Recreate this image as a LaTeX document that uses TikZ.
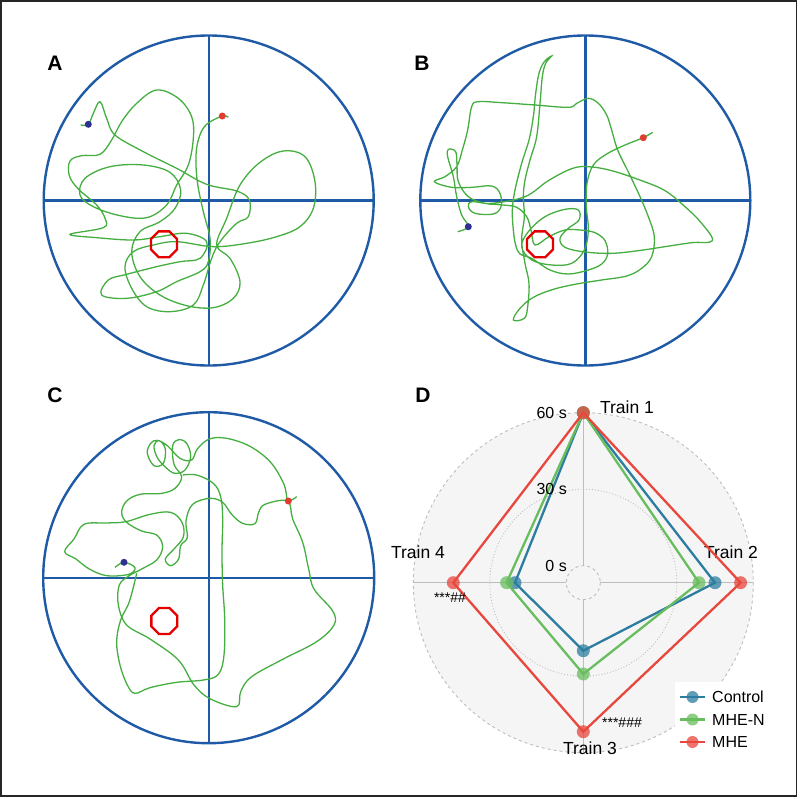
\documentclass[tikz,border=0pt]{standalone}
\usepackage{fontspec}
\setmainfont{Liberation Sans}
\usepackage{tikz}
\usetikzlibrary{shapes.geometric}

\definecolor{mazeblue}{HTML}{1F5AA6}
\definecolor{trackgreen}{HTML}{45AE40}
\definecolor{startblue}{HTML}{2E3192}
\definecolor{endred}{HTML}{E53A2F}
\definecolor{ctrlblue}{HTML}{2C7DA0}
\definecolor{mhengreen}{HTML}{68BD5E}
\definecolor{mhered}{HTML}{E8473E}
\definecolor{gridgray}{HTML}{BDBDBD}
\definecolor{radarbg}{HTML}{F5F5F5}

\tikzset{
  maze/.style={mazeblue, line width=2.4pt},
  track/.style={trackgreen, line width=1.3pt},
  target/.style={draw=red!90!black, line width=2.3pt, regular polygon, regular polygon sides=8, minimum size=28pt, inner sep=0pt},
  startdot/.style={circle, fill=startblue, minimum size=7pt, inner sep=0pt},
  enddot/.style={circle, fill=endred, minimum size=7pt, inner sep=0pt},
  panel/.style={font=\fontsize{21}{24}\selectfont\bfseries},
  ticklabel/.style={font=\fontsize{16}{18}\selectfont, inner sep=0pt},
  trainlabel/.style={font=\fontsize{17.5}{20}\selectfont, inner sep=0pt},
  starlabel/.style={font=\fontsize{14}{16}\selectfont, inner sep=0pt},
  gridline/.style={gridgray, line width=0.9pt},
  ctrlline/.style={ctrlblue, line width=2.3pt},
  mhenline/.style={mhengreen, line width=2.3pt},
  mheline/.style={mhered, line width=2.3pt},
  ctrlmark/.style={ctrlblue, fill opacity=0.75},
  mhenmark/.style={mhengreen, fill opacity=0.75},
  mhemark/.style={mhered, fill opacity=0.75}
}

\begin{document}
\begin{tikzpicture}[x=1pt, y=-1pt]
\useasboundingbox (0,0) rectangle (800,798);
\draw[line width=1.5pt, black!85] (1,1) rectangle (796.7,796);

% panel A
\node[panel] (labA) at (55,63) {A};
\draw[maze] (208.7,200.5) circle [radius=165];
\draw[maze] (43.7,200.5) -- (373.7,200.5);
\draw[maze] (208.7,35.5) -- (208.7,365.5);
\begin{scope}[shift={(60,85)}, scale=1/3]
\draw[track] plot[smooth, tension=0.6] coordinates {(62,120) (85,118) (100,85) (120,50) (140,100) (165,150) (250,200) (350,250) (440,298) (530,318) (568,345) (565,395) (530,415) (480,470) (455,520) (430,600) (400,660) (330,680) (260,665) (215,610) (195,545) (220,500) (280,480) (350,470) (460,485) (560,475) (650,455) (720,425) (760,370) (765,290) (735,215) (670,198) (600,232) (540,300) (500,400) (470,480) (510,520) (540,590) (520,640) (460,668) (380,662) (300,630) (240,575) (215,500) (240,440) (300,410) (345,370) (362,315) (330,262) (250,240) (150,245) (75,280) (60,330) (100,365) (180,392) (260,398) (320,360) (350,300) (385,240) (400,160) (395,95) (355,40) (290,15) (230,55) (185,110) (155,165) (120,208) (65,212) (30,228) (28,272) (55,312) (110,360) (135,400) (130,428) (30,448) (110,458) (220,465) (300,455) (380,445) (440,470) (420,520) (360,530) (290,545) (200,568) (145,585) (125,630) (200,640) (290,620) (350,590) (420,560) (445,530) (450,460) (430,380) (412,290) (408,210) (418,155) (440,118) (487,93) (505,97)};
\end{scope}
\node[target] (goalA) at (164,244.3) {};
\node[startdot] (startA) at (88.3,124.3) {};
\node[enddot] (endA) at (222.3,116) {};

% panel B
\node[panel] (labB) at (422,63) {B};
\draw[maze] (585.3,200.5) circle [radius=165];
\draw[maze] (420.3,200.5) -- (750.3,200.5);
\draw[maze] (585.3,35.5) -- (585.3,365.5);
\begin{scope}[shift={(425,50)}, scale=1/3]
\draw[track] plot[smooth, tension=0.6] coordinates {(98,545) (130,530) (110,495) (95,440) (85,380) (68,320) (70,298) (92,305) (96,345) (100,395) (130,440) (180,460) (235,465) (275,472) (305,500) (318,540) (330,585) (372,560) (420,540) (465,540) (510,548) (540,572) (548,612) (530,642) (490,660) (430,672) (375,660) (320,625) (285,612) (272,585) (265,540) (262,480) (270,420) (290,340) (312,270) (325,200) (332,130) (342,70) (358,35) (380,18) (362,40) (352,80) (345,160) (335,260) (315,330) (300,390) (295,440) (298,500) (290,570) (300,640) (312,700) (308,770) (298,805) (265,810) (285,775) (325,742) (385,718) (455,702) (530,690) (605,678) (650,655) (680,620) (688,560) (670,500) (645,440) (612,370) (578,300) (560,240) (545,195) (520,160) (490,145) (455,160) (430,172) (330,165) (230,158) (160,155) (140,170) (128,240) (112,300) (95,350) (60,380) (28,395) (80,412) (140,412) (200,408) (225,430) (228,470) (205,492) (150,490) (130,470) (142,455) (200,460) (300,440) (370,392) (440,356) (490,350) (560,362) (650,392) (720,422) (780,470) (830,520) (862,572) (800,578) (720,590) (640,602) (560,610) (480,606) (420,592) (405,565) (430,535) (462,510) (460,480) (420,478) (360,500) (310,545) (290,590) (320,630) (380,645) (440,640) (478,600) (490,540) (484,470) (486,400) (505,345) (545,312) (600,285) (655,263) (683,247)};
\end{scope}
\node[target] (goalB) at (540,244.3) {};
\node[startdot] (startB) at (468.3,226.7) {};
\node[enddot] (endB) at (643.3,137.7) {};

% panel C
\node[panel] (labC) at (55,395) {C};
\draw[maze] (208.7,577.7) circle [radius=165.5];
\draw[maze] (43.2,577.7) -- (374.2,577.7);
\draw[maze] (208.7,412.2) -- (208.7,743.2);
\begin{scope}[shift={(50,425)}, scale=1/3]
\draw[track] plot[smooth, tension=0.6] coordinates {(195,427) (222,412) (255,428) (236,448) (170,452) (118,432) (78,402) (44,380) (72,342) (102,298) (170,294) (228,290) (300,268) (362,262) (396,292) (400,336) (372,372) (346,402) (362,422) (386,402) (392,362) (412,338) (408,288) (428,238) (480,220) (518,232) (545,268) (578,295) (615,296) (626,262) (645,238) (712,228) (728,282) (758,352) (776,432) (792,492) (848,558) (852,600) (800,650) (700,702) (605,755) (572,800) (560,845) (482,822) (432,780) (385,705) (300,642) (230,600) (205,540) (208,480) (238,452) (275,432) (320,405) (338,365) (320,330) (275,318) (230,292) (215,262) (230,228) (270,208) (335,205) (375,190) (395,155) (372,118) (368,62) (386,44) (410,55) (422,95) (405,135) (375,145) (348,128) (322,98) (312,62) (328,47) (346,72) (340,115) (312,122) (292,85) (302,55) (322,46) (352,62) (390,100) (425,105) (442,72) (478,42) (530,40) (600,64) (662,112) (702,178) (714,226) (740,215)};
\draw[track] plot[smooth, tension=0.6] coordinates {(260,445) (238,530) (212,585) (200,650) (210,720) (232,780) (255,805) (300,788) (380,772) (460,765) (505,748) (522,690) (524,580) (518,480) (516,380) (518,280) (512,215) (490,175) (440,150) (398,150)};
\end{scope}
\node[target] (goalC) at (164.3,621) {};
\node[startdot] (startC) at (124,562.3) {};
\node[enddot] (endC) at (288.3,501) {};

% panel D
\node[panel] (labD) at (423,395) {D};
\coordinate (O) at (583.3,582.7);
\fill[radarbg] (O) circle [radius=170];
\draw[gridline, dashed] (O) circle [radius=170];
\draw[gridline, dotted] (O) circle [radius=93.5];
\draw[gridline, dashed] (O) circle [radius=17];
\draw[gridline] (583.3,565.7) -- (583.3,412.7);
\draw[gridline] (583.3,599.7) -- (583.3,752.7);
\draw[gridline] (566.3,582.7) -- (413.3,582.7);
\draw[gridline] (600.3,582.7) -- (753.3,582.7);

\node[trainlabel] (T1) at (627,407) {Train 1};
\node[trainlabel] (T2) at (731,552) {Train 2};
\node[trainlabel] (T3) at (590,748) {Train 3};
\node[trainlabel] (T4) at (418,552) {Train 4};

\coordinate (Ctrl_1) at (583.3,412.7);
\coordinate (Ctrl_2) at (715,582.7);
\coordinate (Ctrl_3) at (583.3,650.7);
\coordinate (Ctrl_4) at (515,582.7);
\coordinate (MHEN_1) at (583.3,412.7);
\coordinate (MHEN_2) at (699,582.7);
\coordinate (MHEN_3) at (583.3,674);
\coordinate (MHEN_4) at (506.6,582.7);
\coordinate (MHE_1) at (583.3,412.7);
\coordinate (MHE_2) at (740.6,582.7);
\coordinate (MHE_3) at (583.3,731.7);
\coordinate (MHE_4) at (453.3,582.7);

\draw[ctrlline] (Ctrl_1) -- (Ctrl_2) -- (Ctrl_3) -- (Ctrl_4) -- cycle;
\fill[ctrlmark] (Ctrl_1) circle [radius=6.5];
\fill[ctrlmark] (Ctrl_2) circle [radius=6.5];
\fill[ctrlmark] (Ctrl_3) circle [radius=6.5];
\fill[ctrlmark] (Ctrl_4) circle [radius=6.5];
\draw[mhenline] (MHEN_1) -- (MHEN_2) -- (MHEN_3) -- (MHEN_4) -- cycle;
\fill[mhenmark] (MHEN_1) circle [radius=6.5];
\fill[mhenmark] (MHEN_2) circle [radius=6.5];
\fill[mhenmark] (MHEN_3) circle [radius=6.5];
\fill[mhenmark] (MHEN_4) circle [radius=6.5];
\draw[mheline] (MHE_1) -- (MHE_2) -- (MHE_3) -- (MHE_4) -- cycle;
\fill[mhemark] (MHE_1) circle [radius=6.5];
\fill[mhemark] (MHE_2) circle [radius=6.5];
\fill[mhemark] (MHE_3) circle [radius=6.5];
\fill[mhemark] (MHE_4) circle [radius=6.5];

% tick labels sit over the lines
\node[ticklabel, anchor=east] (tick60) at (567,412.7) {60 s};
\node[ticklabel, anchor=east] (tick30) at (567,489.2) {30 s};
\node[ticklabel, anchor=east] (tick0) at (567,565.7) {0 s};

\node[starlabel] (sig4) at (450,598) {***\#\#};
\node[starlabel] (sig3) at (622,723) {***\#\#\#};

% legend
\fill[white] (675,682) rectangle (794,762);
\coordinate (leg_a) at (680,697);
\coordinate (leg_b) at (705,697);
\draw[ctrlline] (leg_a) -- (leg_b);
\fill[ctrlmark] (692.5,697) circle [radius=6];
\node[ticklabel, anchor=west] (leg_ctrl) at (712,697) {Control};
\coordinate (leg_c) at (680,719.5);
\coordinate (leg_d) at (705,719.5);
\draw[mhenline] (leg_c) -- (leg_d);
\fill[mhenmark] (692.5,719.5) circle [radius=6];
\node[ticklabel, anchor=west] (leg_mhen) at (712,719.5) {MHE-N};
\coordinate (leg_e) at (680,742);
\coordinate (leg_f) at (705,742);
\draw[mheline] (leg_e) -- (leg_f);
\fill[mhemark] (692.5,742) circle [radius=6];
\node[ticklabel, anchor=west] (leg_mhe) at (712,742) {MHE};
\end{tikzpicture}
\end{document}
